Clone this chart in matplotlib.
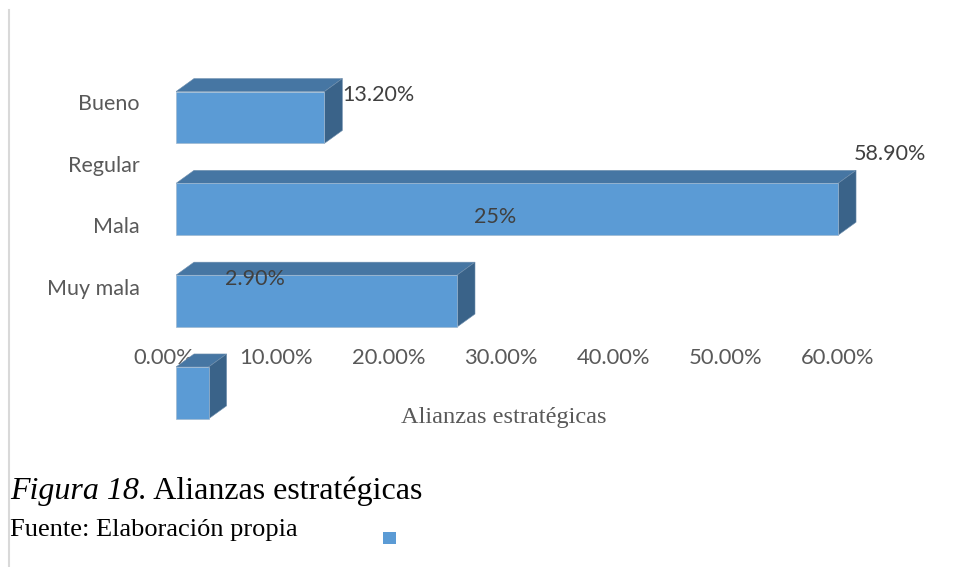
import matplotlib
matplotlib.use("Agg")
import matplotlib.pyplot as plt
import matplotlib.transforms as mtransforms
from matplotlib.patches import Polygon, Patch
from matplotlib.lines import Line2D
from matplotlib.text import Annotation
import numpy as np

# ---------------- data ----------------
categories = ["Bueno", "Regular", "Mala", "Muy mala"]
bar_values = [13.2, 58.9, 25.0, 2.9]            # % (bar lengths, top to bottom)
data_labels = ["13.20%", "58.90%", "25%", "2.90%"]
x_ticks = [0, 10, 20, 30, 40, 50, 60]
x_tick_labels = ["0.00%", "10.00%", "20.00%", "30.00%", "40.00%", "50.00%", "60.00%"]
axis_title = "Alianzas estratégicas"
caption_italic = "Figura 18."
caption_rest = " Alianzas estratégicas"
source_text = "Fuente: Elaboración propia"

# ---------------- layout / style ----------------
W, H, DPI = 955, 567, 100
FRONT = "#5b9bd5"
TOP = "#4676a3"
SIDE = "#3a6389"
TXT = "#595959"
LBL = "#404040"
DEPTH_X_PX, DEPTH_Y_PX = 18, 13
BAR_H = 0.565
XMIN, XMAX = 0, 62
YTOP, YBOT = -0.7, 3.7
ax_left_px, ax_right_px = 176, 176 + 11.24 * (XMAX - XMIN)
ax_top_px = 117.5 + 91.8 * YTOP
ax_bot_px = 117.5 + 91.8 * YBOT

fig = plt.figure(figsize=(W / DPI, H / DPI), dpi=DPI)
ax = fig.add_axes([ax_left_px / W, 1 - ax_bot_px / H,
                   (ax_right_px - ax_left_px) / W, (ax_bot_px - ax_top_px) / H])
ax.set_xlim(XMIN, XMAX)
ax.set_ylim(YBOT, YTOP)
for s in ax.spines.values():
    s.set_visible(False)

px_per_x = (ax_right_px - ax_left_px) / (XMAX - XMIN)
px_per_y = (ax_bot_px - ax_top_px) / (YBOT - YTOP)
ddx = DEPTH_X_PX / px_per_x
ddy = DEPTH_Y_PX / px_per_y

ypos = np.arange(len(bar_values))
h = BAR_H / 2
for y, v in zip(ypos, bar_values):
    # top face
    ax.add_patch(Polygon([(0, y - h), (v, y - h), (v + ddx, y - h - ddy), (ddx, y - h - ddy)],
                         closed=True, facecolor=TOP, edgecolor="#6f8fae", lw=0.4, zorder=2))
    # side face
    ax.add_patch(Polygon([(v, y - h), (v + ddx, y - h - ddy), (v + ddx, y + h - ddy), (v, y + h)],
                         closed=True, facecolor=SIDE, edgecolor="#6f8fae", lw=0.4, zorder=2))
ax.barh(ypos, bar_values, height=BAR_H, color=FRONT, edgecolor="#9fb8d0", linewidth=0.5, zorder=3)

# data labels (placement as in the original)
lab_pos = [(bar_values[0] + ddx, -0.245, "left"),
           (bar_values[1] + ddx - 0.2, 0.40, "left"),
           (28.4, 1.08, "center"),
           (7.0, 1.76, "center")]
for (lx, ly, ha), t in zip(lab_pos, data_labels):
    ax.text(lx, ly, t, ha=ha, va="center", fontsize=15.5, color=LBL,
            family="Lato", zorder=5)

# x axis tick labels (category floor is shifted left in the 3D view)
ax.spines["bottom"].set_position(("data", 2.51))
ax.set_xticks(x_ticks)
ax.set_xticklabels(x_tick_labels, fontsize=15.8, color=TXT, family="Lato")
ax.tick_params(axis="x", length=0, pad=0)
offset = mtransforms.ScaledTranslation(-12.5 / DPI, 0, fig.dpi_scale_trans)
for lab in ax.get_xticklabels():
    lab.set_transform(lab.get_transform() + offset)

# y axis category labels
ylab_pos = np.linspace(-0.169, 1.847, len(categories))
ax.set_yticks(ylab_pos)
ax.set_yticklabels(categories, fontsize=15.5, color=TXT, family="Lato")
ax.tick_params(axis="y", length=0, pad=26)

# axis title
fig.text(504 / W, 1 - 418 / H, axis_title, ha="center", va="center",
         fontsize=17.6, color=TXT, family="Liberation Serif")

# caption
cap_y = 1 - 499 / H
t1 = fig.text(10 / W, cap_y, caption_italic, ha="left", va="baseline",
              fontsize=23, style="italic", family="Liberation Serif", color="black")
fig.add_artist(Annotation(caption_rest, xy=(1, cap_y), xycoords=(t1, "figure fraction"),
                          ha="left", va="baseline", fontsize=23,
                          family="Liberation Serif", color="black"))
fig.text(10 / W, 1 - 536 / H, source_text, ha="left", va="baseline",
         fontsize=19, family="Liberation Serif", color="black")

# lone legend marker
fig.legend(handles=[Patch(facecolor=FRONT, edgecolor="none")], labels=[""],
           loc="center", bbox_to_anchor=(389.5 / W, 1 - 538.5 / H), frameon=False,
           fontsize=10, handlelength=1.0, handleheight=1.0, handletextpad=0,
           borderpad=0, borderaxespad=0)

# left border line
fig.add_artist(Line2D([9 / W, 9 / W], [0, 1 - 10 / H], transform=fig.transFigure,
                      color="#d9d9d9", lw=1.5))

fig.savefig("out.png", dpi=DPI)
